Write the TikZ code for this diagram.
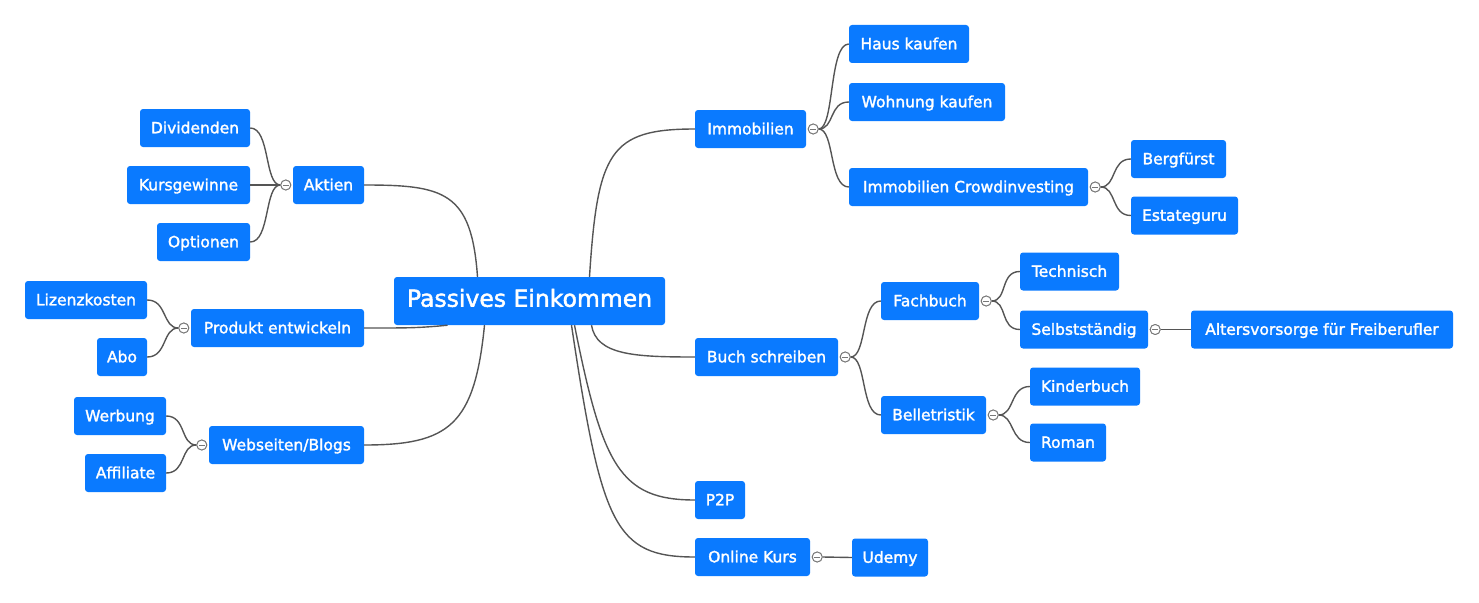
\documentclass[tikz,border=0pt]{standalone}
\usepackage{fontspec}
\setmainfont{DejaVu Sans}
\newfontfamily\boxfont{DejaVu Sans}[RawFeature={embolden=1.8}]
\definecolor{boxblue}{RGB}{10,122,255}
\definecolor{linegray}{RGB}{85,85,85}
\definecolor{circgray}{RGB}{120,120,120}
\tikzset{
  box/.style={fill=boxblue, text=white, rounded corners=3pt, minimum height=38pt,
    inner sep=0pt, text height=13pt, text depth=2.4pt,
    font=\boxfont\fontsize{15.5}{18}\selectfont},
  rootbox/.style={fill=boxblue, text=white, rounded corners=3pt, minimum height=48pt,
    inner sep=0pt, text height=15.5pt, text depth=4pt,
    font=\boxfont\fontsize{23.5}{27}\selectfont},
  link/.style={draw=linegray, line width=1.4pt},
  collapse/.style={circle, draw=circgray, fill=white, line width=0.9pt, minimum size=10pt, inner sep=0pt,
    path picture={\draw[circgray, line width=1pt] ([xshift=-2.8pt]path picture bounding box.center) -- ([xshift=2.8pt]path picture bounding box.center);}}
}
\begin{document}
\begin{tikzpicture}[x=1pt,y=-1pt]
\useasboundingbox (0,0) rectangle (1479,602);
% root
\node[rootbox, minimum width=271pt] (root) at (529.5,301) {Passives Einkommen};
% right side
\node[box, minimum width=111pt] (imm) at (750.5,129) {Immobilien};
\node[box, minimum width=120pt] (haus) at (909,44) {Haus kaufen};
\node[box, minimum width=156pt] (wohn) at (927,102) {Wohnung kaufen};
\node[box, minimum width=239pt] (crowd) at (968.5,187) {Immobilien Crowdinvesting};
\node[box, minimum width=95pt] (berg) at (1178.5,159) {Bergfürst};
\node[box, minimum width=107pt] (estate) at (1184.5,215.5) {Estateguru};
\node[box, minimum width=143pt] (buch) at (766.5,357) {Buch schreiben};
\node[box, minimum width=98pt] (fach) at (930,301) {Fachbuch};
\node[box, minimum width=99pt] (tech) at (1069.5,271.5) {Technisch};
\node[box, minimum width=128pt] (selb) at (1084,329.5) {Selbstständig};
\node[box, minimum width=262pt] (alt) at (1322,329.5) {Altersvorsorge für Freiberufler};
\node[box, minimum width=105pt] (belle) at (933.5,415) {Belletristik};
\node[box, minimum width=110pt] (kind) at (1085,386.5) {Kinderbuch};
\node[box, minimum width=76pt] (roman) at (1068,442.5) {Roman};
\node[box, minimum width=50pt] (p2p) at (720,500) {P2P};
\node[box, minimum width=115pt] (kurs) at (752.5,557) {Online Kurs};
\node[box, minimum width=76pt] (udemy) at (890,557.5) {Udemy};
% left side
\node[box, minimum width=71pt] (akt) at (328.5,185) {Aktien};
\node[box, minimum width=110pt] (div) at (195,128) {Dividenden};
\node[box, minimum width=123pt] (kurs2) at (188.5,185) {Kursgewinne};
\node[box, minimum width=93pt] (opt) at (203.5,242) {Optionen};
\node[box, minimum width=173pt] (prod) at (277.5,328) {Produkt entwickeln};
\node[box, minimum width=122pt] (liz) at (86,300) {Lizenzkosten};
\node[box, minimum width=50pt] (abo) at (122,357) {Abo};
\node[box, minimum width=155pt] (web) at (286.5,445) {Webseiten/Blogs};
\node[box, minimum width=92pt] (werb) at (120,416) {Werbung};
\node[box, minimum width=81pt] (aff) at (125.5,473) {Affiliate};
% root connectors
\draw[link] ([xshift=60pt]root.north) .. controls +(8,-125) and +(-85,0) .. (imm.west);
\draw[link] ([xshift=-52pt]root.north) .. controls +(-6,-85) and +(80,0) .. (akt.east);
\draw[link] ([xshift=-82pt]root.south) .. controls +(-30,3) and +(40,0) .. (prod.east);
\draw[link] ([xshift=-45pt]root.south) .. controls +(-10,100) and +(85,0) .. (web.east);
\draw[link] ([xshift=62pt]root.south) .. controls +(5,30) and +(-60,0) .. (buch.west);
\draw[link] ([xshift=45pt]root.south) .. controls +(28,140) and +(-75,0) .. (p2p.west);
\draw[link] ([xshift=42pt]root.south) .. controls +(30,200) and +(-80,0) .. (kurs.west);
% collapse circles
\node[collapse] (cimm) at ([xshift=7pt]imm.east) {};
\node[collapse] (ccrowd) at ([xshift=7pt]crowd.east) {};
\node[collapse] (cbuch) at ([xshift=7pt]buch.east) {};
\node[collapse] (cfach) at ([xshift=7pt]fach.east) {};
\node[collapse] (cselb) at ([xshift=7pt]selb.east) {};
\node[collapse] (cbelle) at ([xshift=7pt]belle.east) {};
\node[collapse] (ckurs) at ([xshift=7pt]kurs.east) {};
\node[collapse] (cakt) at ([xshift=-7pt]akt.west) {};
\node[collapse] (cprod) at ([xshift=-7pt]prod.west) {};
\node[collapse] (cweb) at ([xshift=-7pt]web.west) {};
% child connectors right
\foreach \p/\c in {cimm/haus, cimm/wohn, cimm/crowd, ccrowd/berg, ccrowd/estate,
  cbuch/fach, cbuch/belle, cfach/tech, cfach/selb, cbelle/kind, cbelle/roman}
  \draw[link] (\p.east) .. controls +(16,0) and +(-20,0) .. (\c.west);
\draw[link] (cselb.east) -- (alt.west);
\draw[link] (ckurs.east) -- (udemy.west);
% child connectors left
\foreach \p/\c in {cakt/div, cakt/kurs2, cakt/opt, cprod/liz, cprod/abo, cweb/werb, cweb/aff}
  \draw[link] (\p.west) .. controls +(-16,0) and +(20,0) .. (\c.east);
% redraw circles on top
\foreach \n in {cimm,ccrowd,cbuch,cfach,cselb,cbelle,ckurs,cakt,cprod,cweb}
  \node[collapse] at (\n) {};
\end{tikzpicture}
\end{document}
